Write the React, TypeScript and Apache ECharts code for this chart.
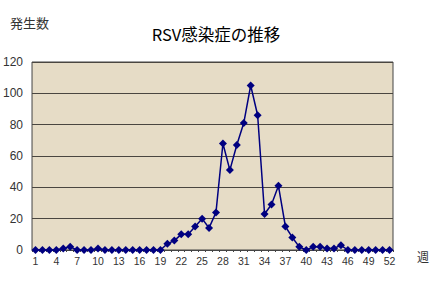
import React, { useEffect, useRef } from "react";
import * as echarts from "echarts";

const weeks: string[] = Array.from({ length: 52 }, (_, i) => String(i + 1));
const cases: number[] = [
  0, 0, 0, 0, 1, 2, 0, 0, 0, 1,
  0, 0, 0, 0, 0, 0, 0, 0, 0, 4,
  6, 10, 10, 15, 20, 14, 24, 68, 51, 67,
  81, 105, 86, 23, 29, 41, 15, 8, 2, 0,
  2, 2, 1, 1, 3, 0, 0, 0, 0, 0,
  0, 0,
];
const yTicks = { min: 0, max: 120, interval: 20 };
const title = "RSV感染症の推移";
const yName = "発生数";
const xName = "週";

export default function App() {
  const ref = useRef<HTMLDivElement>(null);
  useEffect(() => {
    if (!ref.current) return;
    const chart = echarts.init(ref.current, undefined, { renderer: "svg" });
    const font = "'Noto Sans CJK JP', sans-serif";
    chart.setOption({
      animation: false,
      backgroundColor: "#ffffff",
      textStyle: { fontFamily: font },
      title: {
        text: title,
        left: 211,
        textAlign: "center",
        top: 21,
        textStyle: { fontSize: 16.5, fontWeight: "normal", color: "#000", fontFamily: font },
      },
      graphic: [
        { type: "text", left: 10, top: 16, style: { text: yName, fontSize: 13, fill: "#333", fontFamily: font } },
        { type: "text", left: 417, top: 250, style: { text: xName, fontSize: 12, fill: "#333", fontFamily: font } },
      ],
      grid: {
        left: 29,
        right: 40,
        top: 62,
        bottom: 45,
        show: true,
        backgroundColor: "#e6dcc6",
        borderColor: "#444",
        borderWidth: 1,
      },
      xAxis: {
        type: "category",
        data: weeks,
        boundaryGap: true,
        axisLine: { lineStyle: { color: "#444", width: 1 } },
        axisTick: { show: true, length: 2, interval: 0, lineStyle: { color: "#444" } },
        axisLabel: { interval: 2, fontSize: 10.5, color: "#333", margin: 5, fontFamily: "'Liberation Sans', Arial, sans-serif" },
      },
      yAxis: {
        type: "value",
        min: yTicks.min,
        max: yTicks.max,
        interval: yTicks.interval,
        axisLine: { show: false },
        axisTick: { show: false },
        splitLine: { lineStyle: { color: "#4a4640", width: 1 } },
        axisLabel: { fontSize: 12, color: "#333", margin: 9, fontFamily: "'Liberation Sans', Arial, sans-serif" },
      },
      series: [
        {
          type: "line",
          data: cases,
          symbol: "diamond",
          symbolSize: 8,
          showAllSymbol: true,
          itemStyle: { color: "#000080" },
          lineStyle: { color: "#000080", width: 1.5 },
        },
      ],
    });
    return () => chart.dispose();
  }, []);
  return <div ref={ref} style={{ width: 433, height: 295, position: "absolute", left: 0, top: 0 }} />;
}
